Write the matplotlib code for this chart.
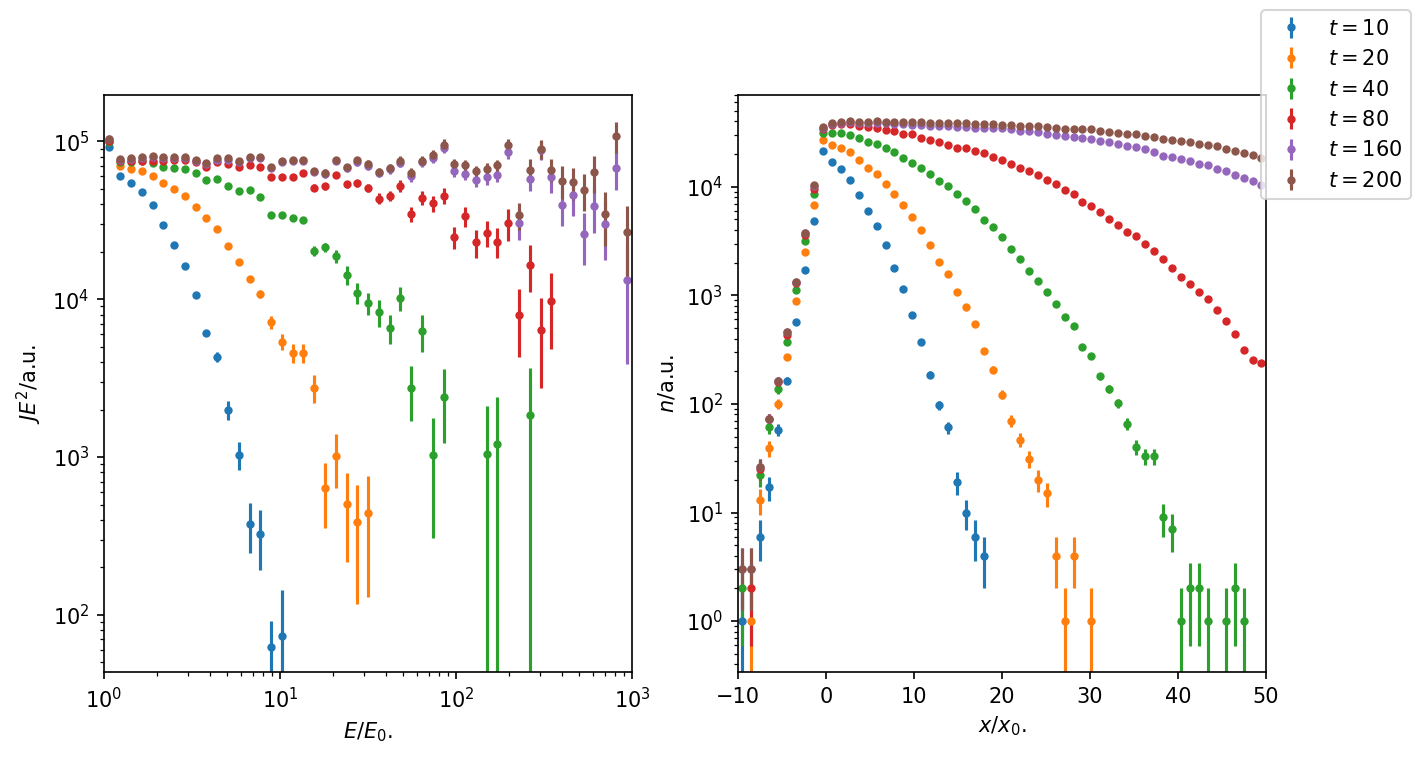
import matplotlib
matplotlib.use("Agg")
import matplotlib.pyplot as plt
import numpy as np

labels = [r'$t=10$', r'$t=20$', r'$t=40$', r'$t=80$', r'$t=160$', r'$t=200$']
nan = np.nan

# left panel: spectrum J E^2 vs E/E0 (log bins)
E = [1.073, 1.235, 1.423, 1.638, 1.886, 2.172, 2.500, 2.879, 3.314, 3.816,
     4.394, 5.059, 5.825, 6.707, 7.723, 8.892, 10.24, 11.79, 13.57, 15.63,
     17.99, 20.72, 23.85, 27.47, 31.62, 36.41, 41.93, 48.28, 55.59, 64.00,
     73.69, 84.86, 97.68, 112.5, 129.5, 149.1, 171.7, 197.7, 227.6, 262.1,
     301.8, 347.4, 400.0, 460.6, 530.3, 610.6, 703.0, 809.5, 932.0]

J10 = [92500, 60700, 54200, 47500, 39400, 29700, 22000, 16200, 10600, 6150,
       4330, 1990, 1035, 378, 326, 63, 73] + [nan] * 32
J10_err = [600, 500, 450, 400, 350, 300, 260, 220, 180, 200,
           320, 275, 207, 133, 134, 29, 70] + [nan] * 32

J20 = [100000, 70200, 67100, 65200, 60700, 54200, 49700, 45300, 38600, 32600,
       27700, 21900, 17100, 13500, 10800, 7150, 5380, 4590, 4590, 2755,
       638, 1020, 506, 389, 444] + [nan] * 24
J20_err = [800, 600, 600, 550, 550, 500, 500, 450, 450, 450,
           450, 450, 500, 500, 650, 650, 640, 620, 620, 550,
           285, 380, 290, 272, 315] + [nan] * 24

J40 = [99000, 74000, 74000, 74700, 73300, 69200, 68100, 67100, 62700, 57100,
       57800, 52400, 48300, 49000, 44700, 34400, 34400, 32600, 31600, 20300,
       21300, 18700, 14300, 11000, 9440, 8280, 6550, 10200, 2755, 6320,
       1035, 2415, nan, nan, nan, 1050, 1215, nan, nan, 1855] + [nan] * 9
J40_err = [800, 700, 700, 700, 700, 700, 700, 700, 700, 700,
           800, 800, 800, 900, 900, 900, 1000, 1000, 1100, 1500,
           1500, 1800, 1900, 1700, 1500, 1600, 1350, 1750, 1050, 1680,
           730, 1180, nan, nan, nan, 1070, 1190, nan, nan, 1830] + [nan] * 9

J80 = [101000, 74700, 75500, 74700, 74700, 74700, 76600, 76300, 73600, 68400,
       74000, 71900, 69200, 70800, 69200, 59800, 59800, 59800, 62700, 50900,
       51900, 61500, 53500, 54200, 50700, 43400, 45300, 52100, 34800, 44000,
       40600, 45300, 24900, 33500, 22900, 26400, 23200, 30500, 8000, 16600,
       6430, 9820] + [nan] * 7
J80_err = [1500, 1200, 1200, 1200, 1300, 1300, 1400, 1400, 1500, 1500,
           1600, 1700, 1800, 1900, 2000, 2000, 2100, 2200, 2400, 2500,
           2600, 2800, 2900, 3000, 3200, 3500, 3400, 4500, 3800, 4700,
           4700, 5400, 4000, 4900, 4600, 4900, 5000, 7000, 3700, 5400,
           3700, 4950] + [nan] * 7

J160 = [103000, 76000, 77500, 78500, 80000, 79000, 79000, 78000, 75500, 71500,
        76600, 76600, 74500, 78000, 79000, 68000, 74000, 75500, 75500, 64000,
        62100, 75500, 67800, 73600, 69500, 63100, 66800, 73300, 60000, 73600,
        78500, 90700, 65200, 62400, 57100, 59200, 61500, 85500, 30500, 57400,
        88900, 59200, 39700, 45500, 26000, 38800, 29800, 68100, 13200]
J160_err = [1500, 1200, 1200, 1200, 1300, 1300, 1400, 1400, 1500, 1500,
            1700, 1800, 1900, 2100, 2300, 2300, 2600, 2800, 3000, 3000,
            3100, 3500, 3500, 3800, 4000, 4000, 4300, 4800, 4500, 5200,
            5800, 6500, 5500, 5700, 5600, 6000, 6300, 8500, 6600, 9100,
            12300, 12000, 10700, 12000, 9400, 12500, 12000, 18700, 9300]

J200 = [104000, 77300, 78500, 79600, 81100, 80000, 80000, 79300, 76300, 72600,
        78500, 78500, 75500, 79300, 80000, 69200, 75500, 76300, 76300, 65200,
        63400, 76600, 68800, 75900, 71900, 64000, 67800, 75500, 63100, 75500,
        82300, 95200, 71900, 70500, 64600, 67100, 70500, 95200, 34100, 66200,
        89900, 66200, 56400, 55300, 49000, 64000, 34800, 108600, 26500]
J200_err = [1500, 1200, 1200, 1200, 1300, 1300, 1400, 1400, 1500, 1500,
            1700, 1800, 1900, 2100, 2300, 2300, 2600, 2800, 3000, 3000,
            3100, 3500, 3500, 3800, 4000, 4000, 4300, 4800, 4500, 5200,
            5800, 8000, 5500, 5700, 5600, 6000, 6300, 9000, 6600, 11000,
            12600, 11000, 13000, 12500, 13000, 17000, 13000, 24000, 12700]

# right panel: density n vs x/x0 (counts, Poisson errors)
xpos = [-9.49, -8.47, -7.46, -6.44, -5.42, -4.41, -3.39, -2.37, -1.36, -0.34,
        0.68, 1.69, 2.71, 3.73, 4.75, 5.76, 6.78, 7.80, 8.81, 9.83,
        10.85, 11.86, 12.88, 13.90, 14.92, 15.93, 16.95, 17.97, 18.98, 20.00,
        21.02, 22.03, 23.05, 24.07, 25.08, 26.10, 27.12, 28.14, 29.15, 30.17,
        31.19, 32.20, 33.22, 34.24, 35.25, 36.27, 37.29, 38.31, 39.32, 40.34,
        41.36, 42.37, 43.39, 44.41, 45.42, 46.44, 47.46, 48.47, 49.49]

n10 = [1, nan, 6, 17, 58, 164, 570, 1706, 4860, 21300,
       16940, 14590, 11450, 8430, 6030, 4380, 2910, 1794, 1138, 655,
       375, 186, 97, 61, 19, 10, 6, 4] + [nan] * 31
n20 = [nan, 1, 13, 39, 100, 273, 879, 2505, 6855, 26900,
       24200, 22700, 20830, 17710, 14890, 13120, 10510, 8490, 6855, 5228,
       4018, 2932, 2025, 1578, 1074, 775, 547, 310, 207, 122,
       70, 47, 31, 20, 15, 4, 1, 4, nan, 1] + [nan] * 19
n40 = [2, nan, 22, 61, 136, 375, 1112, 3176, 8490, 31270,
       31270, 31270, 30200, 28100, 25640, 24720, 22700, 20710, 18580, 16480,
       14790, 13120, 11290, 10070, 8490, 7460, 6290, 4970, 4220, 3410,
       2675, 2160, 1670, 1368, 1066, 840, 637, 526, 337, 279,
       179, 137, 101, 66, 40, 33, 33, 9, 7, 1,
       2, 2, 1, nan, 1, 2, 1, nan, nan]
n80 = [nan, 2, 25, 72, 160, 435, 1300, 3560, 9510, 34050,
       37150, 37950, 37950, 36070, 35320, 34570, 33370, 32430, 30620, 30410,
       28100, 26900, 26000, 24200, 22850, 22540, 21300, 20400, 18720, 17700,
       16240, 14790, 13870, 12730, 11450, 10510, 9250, 8490, 7310, 6710,
       5900, 5080, 4470, 3850, 3530, 2980, 2566, 2160, 1781, 1480,
       1265, 1066, 931, 726, 586, 443, 314, 256, 240]
n160 = [3, 3, 26, 73, 163, 460, 1330, 3750, 10200, 35000,
        37500, 39000, 39500, 39000, 39000, 39000, 38500, 38000, 37500, 37000,
        37000, 36500, 36000, 36000, 35500, 35500, 35000, 35000, 34800, 34830,
        33840, 32660, 32660, 31990, 30620, 29970, 29310, 28510, 28100, 27520,
        26360, 25820, 24720, 23700, 23210, 22230, 20830, 19000, 18720, 17940,
        17300, 16240, 15900, 14690, 13870, 12730, 11940, 11290, 10290]
n200 = [3, 3, 26, 73, 163, 463, 1330, 3770, 10290, 35800,
        38500, 39800, 40400, 39600, 39800, 40000, 39800, 39600, 39400, 39300,
        39300, 39000, 38900, 38600, 38400, 38300, 38000, 37800, 37500, 37150,
        37400, 36300, 36300, 36300, 35600, 34800, 34100, 34100, 34100, 34100,
        32660, 31990, 31270, 30620, 30620, 29310, 28700, 27520, 26940, 26180,
        25820, 24720, 24210, 23540, 22230, 21300, 20400, 19540, 18580]

spectra = [(J10, J10_err), (J20, J20_err), (J40, J40_err),
           (J80, J80_err), (J160, J160_err), (J200, J200_err)]
densities = [n10, n20, n40, n80, n160, n200]

fig, (ax1, ax2) = plt.subplots(1, 2, figsize=(1421 / 150, 758 / 150), dpi=150)
fig.subplots_adjust(left=0.0732, right=0.8909, bottom=0.1135, top=0.8747, wspace=0.2)

for (J, Jerr), lab in zip(spectra, labels):
    ax1.errorbar(E, J, yerr=Jerr, fmt='.', label=lab)
ax1.set_xscale('log')
ax1.set_yscale('log')
ax1.set_xlim(1, 1000)
ax1.set_ylim(43.5, 1.97e5)
ax1.set_xlabel(r'$E/E_0$.')
ax1.set_ylabel(r'$JE^2/$a.u.')

for n, lab in zip(densities, labels):
    n = np.array(n, dtype=float)
    ax2.errorbar(xpos, n, yerr=np.sqrt(n), fmt='.', label=lab)
ax2.set_yscale('log')
ax2.set_xlim(-10, 50)
ax2.set_ylim(0.34, 7.0e4)
ax2.set_xlabel(r'$x/x_0$.')
ax2.set_ylabel(r'$n/$a.u.')

handles, labs = ax2.get_legend_handles_labels()
fig.legend(handles, labs, loc='upper right')

fig.savefig('out.png', dpi=150)
